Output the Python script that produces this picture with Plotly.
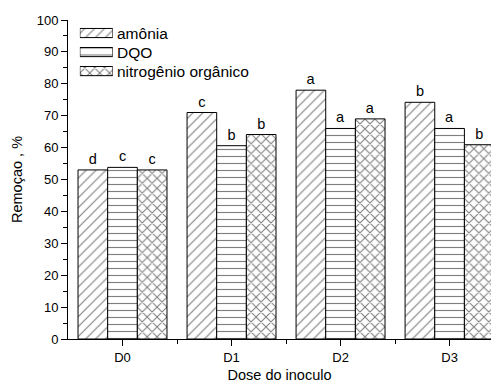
import plotly.graph_objects as go

categories = ["D0", "D1", "D2", "D3"]
series_names = ["amônia", "DQO", "nitrogênio orgânico"]
amonia = [53.0, 71.0, 78.0, 74.2]
dqo = [53.8, 60.6, 66.0, 66.0]
nitrogenio = [53.0, 64.1, 69.0, 60.9]
amonia_letters = ["d", "c", "a", "b"]
dqo_letters = ["c", "b", "a", "a"]
nitrogenio_letters = ["c", "b", "a", "b"]

values = [amonia, dqo, nitrogenio]
letters = [amonia_letters, dqo_letters, nitrogenio_letters]
shapes = ["/", "-", "x"]
solidities = [0.16, 0.16, 0.28]

FONT = "Arial, Liberation Sans, sans-serif"
xpos = list(range(len(categories)))

fig = go.Figure()
for name, vals, lets, shp, sol in zip(series_names, values, letters, shapes, solidities):
    fig.add_trace(go.Bar(
        x=xpos, y=vals, name=name, text=lets,
        textposition="outside", texttemplate="%{text}",
        textfont=dict(family=FONT, size=14.5, color="black"),
        cliponaxis=False,
        marker=dict(color="white",
                    line=dict(color="black", width=1),
                    pattern=dict(shape=shp, fgcolor="black", bgcolor="white",
                                 size=7, solidity=sol)),
        showlegend=False,
    ))

# hand-made legend with wide patterned patches
for i, (name, shp, sol) in enumerate(zip(series_names, shapes, solidities)):
    fig.add_trace(go.Bar(
        x=[1], y=[i], orientation="h", width=0.48, offsetgroup="leg",
        xaxis="x2", yaxis="y2", hoverinfo="skip",
        marker=dict(color="white",
                    line=dict(color="black", width=1),
                    pattern=dict(shape=shp, fgcolor="black", bgcolor="white",
                                 size=7, solidity=sol)),
        showlegend=False,
    ))
    fig.add_annotation(x=1, y=i, xref="x2", yref="y2", text=name,
                       showarrow=False, xanchor="left", yanchor="middle",
                       xshift=2, font=dict(family=FONT, size=15.5, color="black"))

fig.update_layout(
    width=491, height=385,
    margin=dict(l=68, r=0, t=20, b=46),
    paper_bgcolor="white", plot_bgcolor="white",
    barmode="group", bargap=0.184, bargroupgap=0,
    font=dict(family=FONT, size=12.5, color="black"),
    xaxis=dict(
        range=[-0.5, 3.38], tickmode="array", tickvals=xpos, ticktext=categories,
        showline=True, linecolor="black", linewidth=1,
        ticks="outside", ticklen=6, tickcolor="black",
        minor=dict(tickmode="array", tickvals=[0.5, 1.5, 2.5], ticks="outside",
                   ticklen=4, tickcolor="black"),
        showgrid=False, zeroline=False,
        title=dict(text="Dose do inoculo", font=dict(size=14.5), standoff=6),
        tickfont=dict(size=13),
    ),
    yaxis=dict(
        range=[0, 100], dtick=10, showline=True, linecolor="black", linewidth=1,
        ticks="outside", ticklen=6, tickcolor="black",
        minor=dict(dtick=5, ticks="outside", ticklen=4, tickcolor="black"),
        showgrid=False, zeroline=False,
        title=dict(text="Remoçao , %", font=dict(size=14.5), standoff=10),
        tickfont=dict(size=13),
    ),
    xaxis2=dict(domain=[0.028, 0.106], range=[0, 1], visible=False, anchor="y2",
                fixedrange=True),
    yaxis2=dict(domain=[0.81, 0.989], range=[2.5, -0.5], visible=False, anchor="x2",
                fixedrange=True),
)

fig.write_html("out.html")
